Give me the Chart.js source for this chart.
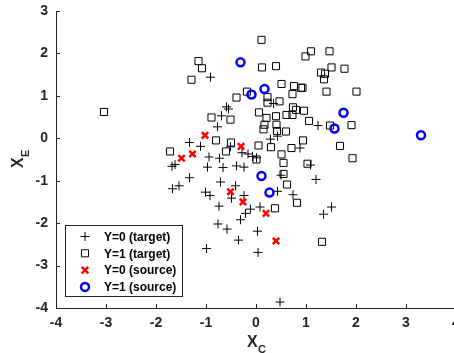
<!DOCTYPE html>
<html>
<head>
<meta charset="utf-8">
<script src="https://cdn.jsdelivr.net/npm/chart.js@4/dist/chart.umd.min.js"></script>
<style>
  html, body { margin: 0; padding: 0; background: #fff; overflow: hidden; }
  #wrap { position: relative; width: 454px; height: 353px; overflow: hidden; }
  canvas { position: absolute; left: 0; top: 0; }
</style>
</head>
<body>
<div id="wrap"><canvas id="chart" width="470" height="353"></canvas></div>
<script>
// values
var target0X = [-0.91, 0.35, -0.59, -0.55, -0.69, -0.77, -1.33, -1.11, -0.51, 0.29, 0.43, 0.88, -1.68, -1.62, -1.33, -0.94, -0.73, -0.97, -0.66, -0.39, -0.24, -0.28, -0.16, -0.07, 0.01, 0.50, 1.24, 1.09, 1.20, -1.54, -1.67, -0.71, -0.41, -1.01, -0.92, -0.49, -0.24, 0.43, 0.74, -0.74, -0.11, 0.08, -0.21, -0.31, -0.76, -0.58, 0.03, -0.35, -0.99, 0.04, 0.48, 1.51, 1.35];
var target0Y = [1.44, 0.82, 0.74, 0.69, 0.53, 0.27, -0.10, -0.19, -0.20, -0.02, 0.05, -0.23, -0.66, -0.62, -0.93, -0.44, -0.47, -0.68, -0.69, -0.65, -0.68, -0.34, -0.37, -0.43, -0.46, -0.87, 0.30, -0.63, -0.97, -1.12, -1.19, -1.03, -1.12, -1.27, -1.35, -1.41, -1.35, -1.25, -1.33, -1.60, -1.67, -1.62, -1.77, -1.92, -2.02, -2.14, -2.19, -2.40, -2.60, -2.69, -3.86, -1.62, -1.79];

var target1X = [0.11, 0.99, 1.10, 1.47, -1.15, -1.08, -1.29, 0.12, 0.40, 0.51, 0.76, 0.90, 0.93, 0.73, -0.39, -0.18, 0.23, 0.23, 0.47, 0.74, 0.80, 0.96, 0.61, 0.73, 1.06, 0.06, 0.21, 0.40, -0.89, -0.51, 0.17, 0.15, 0.41, 0.42, 0.60, -0.80, -0.50, -0.60, 0.30, 0.05, 0.71, 0.94, -1.72, 0.01, 0.51, 0.55, 1.03, 0.55, 0.62, 0.82, 0.38, 1.32, 1.30, 1.38, 1.51, 1.77, 1.36, 1.41, 2.01, 1.48, 1.91, 1.68, 1.93, -3.04];
var target1Y = [2.32, 1.93, 2.05, 2.05, 1.82, 1.65, 1.38, 1.67, 1.70, 1.28, 1.23, 1.19, 1.19, 1.04, 0.96, 1.10, 0.97, 0.84, 0.87, 0.73, 0.67, 0.65, 0.55, 0.55, 0.41, 0.61, 0.48, 0.52, 0.49, 0.44, 0.32, 0.21, 0.32, 0.17, 0.16, -0.05, -0.10, -0.31, -0.21, -0.17, -0.23, -0.05, -0.31, -0.50, -0.38, -0.58, -0.60, -0.84, -1.09, -1.52, -1.65, -2.44, 1.55, 1.52, 1.67, 1.64, 1.39, 1.10, 1.10, 0.30, 0.31, -0.18, -0.47, 0.62];

var source0X = [-1.02, -0.30, -1.27, -1.49, -0.51, -0.26, 0.20, 0.40];
var source0Y = [0.07, -0.19, -0.37, -0.47, -1.26, -1.50, -1.77, -2.42];

var source1X = [-0.31, 0.17, -0.09, 1.75, 1.57, 3.30, 0.11, 0.27];
var source1Y = [1.79, 1.16, 1.03, 0.60, 0.23, 0.07, -0.89, -1.28];

var seriesNames = ["Y=0 (target)", "Y=1 (target)", "Y=0 (source)", "Y=1 (source)"];
var xTicks = [-4, -3, -2, -1, 0, 1, 2, 3, 4];
var yTicks = [-4, -3, -2, -1, 0, 1, 2, 3];

var axisColor = "#262626";
var fontFamily = "'Liberation Sans', Arial, Helvetica, sans-serif";

function toPoints(xs, ys) {
  var pts = [];
  for (var i = 0; i < xs.length; i++) pts.push({ x: xs[i], y: ys[i] });
  return pts;
}

// marker drawing for the legend box
function drawMarker(ctx, ds, x, y) {
  var r = ds.pointRadius;
  ctx.save();
  ctx.strokeStyle = ds.borderColor;
  ctx.lineWidth = ds.borderWidth;
  ctx.beginPath();
  if (ds.pointStyle == "cross") {
    ctx.moveTo(x - r, y); ctx.lineTo(x + r, y);
    ctx.moveTo(x, y - r); ctx.lineTo(x, y + r);
  } else if (ds.pointStyle == "rect") {
    var s = r * Math.SQRT1_2;
    ctx.rect(x - s, y - s, 2 * s, 2 * s);
  } else if (ds.pointStyle == "crossRot") {
    var d = r * Math.SQRT1_2;
    ctx.moveTo(x - d, y - d); ctx.lineTo(x + d, y + d);
    ctx.moveTo(x - d, y + d); ctx.lineTo(x + d, y - d);
  } else {
    ctx.arc(x, y, r, 0, Math.PI * 2);
  }
  ctx.stroke();
  ctx.restore();
}

var matlabAxes = {
  id: "matlabAxes",
  afterDraw: function (chart) {
    var ctx = chart.ctx;
    var area = chart.chartArea;
    var xs = chart.scales.x, ys = chart.scales.y;

    // inward tick marks
    ctx.save();
    ctx.strokeStyle = axisColor;
    ctx.lineWidth = 1;
    ctx.beginPath();
    xTicks.forEach(function (v) {
      var px = Math.round(xs.getPixelForValue(v)) + 0.5;
      ctx.moveTo(px, area.bottom);
      ctx.lineTo(px, area.bottom - 4);
    });
    yTicks.forEach(function (v) {
      var py = Math.round(ys.getPixelForValue(v)) + 0.5;
      ctx.moveTo(area.left, py);
      ctx.lineTo(area.left + 4, py);
    });
    ctx.stroke();

    // axis titles with subscripts
    ctx.fillStyle = axisColor;
    ctx.textBaseline = "alphabetic";
    ctx.textAlign = "left";
    ctx.font = "bold 16px " + fontFamily;
    ctx.fillText("X", 247, 347);
    ctx.font = "bold 11px " + fontFamily;
    ctx.fillText("C", 258, 353);

    ctx.translate(23, 168);
    ctx.rotate(-Math.PI / 2);
    ctx.font = "bold 16px " + fontFamily;
    ctx.fillText("X", 0, 0);
    ctx.font = "bold 11px " + fontFamily;
    ctx.fillText("E", 11, 6);
    ctx.restore();

    // legend box
    ctx.save();
    ctx.fillStyle = "#fff";
    ctx.fillRect(65.5, 225.5, 117, 71);
    ctx.strokeStyle = axisColor;
    ctx.lineWidth = 1;
    ctx.strokeRect(65.5, 225.5, 117, 71);
    ctx.font = "bold 12px " + fontFamily;
    ctx.textBaseline = "middle";
    ctx.textAlign = "left";
    chart.data.datasets.forEach(function (ds, i) {
      var y = 236.5 + i * 16.8;
      drawMarker(ctx, ds, 85, y);
      ctx.fillStyle = "#000";
      ctx.fillText(ds.label, 104, y + 1);
    });
    ctx.restore();
  }
};

var chart = new Chart(document.getElementById("chart").getContext("2d"), {
  type: "scatter",
  data: {
    datasets: [
      {
        label: seriesNames[0],
        data: toPoints(target0X, target0Y),
        pointStyle: "cross",
        pointRadius: 4.5,
        borderColor: "#000",
        backgroundColor: "rgba(0,0,0,0)",
        borderWidth: 1,
        order: 3
      },
      {
        label: seriesNames[1],
        data: toPoints(target1X, target1Y),
        pointStyle: "rect",
        pointRadius: 5,
        borderColor: "#000",
        backgroundColor: "rgba(0,0,0,0)",
        borderWidth: 1,
        order: 2
      },
      {
        label: seriesNames[2],
        data: toPoints(source0X, source0Y),
        pointStyle: "crossRot",
        pointRadius: 4.5,
        borderColor: "#ff0000",
        backgroundColor: "rgba(0,0,0,0)",
        borderWidth: 2.5,
        order: 1
      },
      {
        label: seriesNames[3],
        data: toPoints(source1X, source1Y),
        pointStyle: "circle",
        pointRadius: 4,
        borderColor: "#0000ff",
        backgroundColor: "rgba(0,0,0,0)",
        borderWidth: 2.5,
        order: 0
      }
    ]
  },
  options: {
    responsive: false,
    devicePixelRatio: 1,
    animation: false,
    events: [],
    layout: { padding: { top: 11, right: 14, left: 0, bottom: 0 } },
    plugins: {
      legend: { display: false },
      tooltip: { enabled: false }
    },
    scales: {
      x: {
        type: "linear",
        min: -4,
        max: 4,
        afterFit: function (scale) { scale.height = 45; },
        afterBuildTicks: function (scale) {
          scale.ticks = xTicks.map(function (v) { return { value: v }; });
        },
        grid: { display: false, drawTicks: false },
        border: { display: true, color: axisColor, width: 1 },
        ticks: {
          padding: 7,
          color: axisColor,
          maxRotation: 0,
          font: { family: fontFamily, size: 14, weight: "bold" }
        }
      },
      y: {
        type: "linear",
        min: -4,
        max: 3,
        afterFit: function (scale) {
          scale.width = 56;
          scale.paddingTop = 0;
          scale.paddingBottom = 0;
        },
        afterBuildTicks: function (scale) {
          scale.ticks = yTicks.map(function (v) { return { value: v }; });
        },
        grid: { display: false, drawTicks: false },
        border: { display: true, color: axisColor, width: 1 },
        ticks: {
          padding: 8,
          color: axisColor,
          font: { family: fontFamily, size: 14, weight: "bold" }
        }
      }
    }
  },
  plugins: [matlabAxes]
});
</script>
</body>
</html>
